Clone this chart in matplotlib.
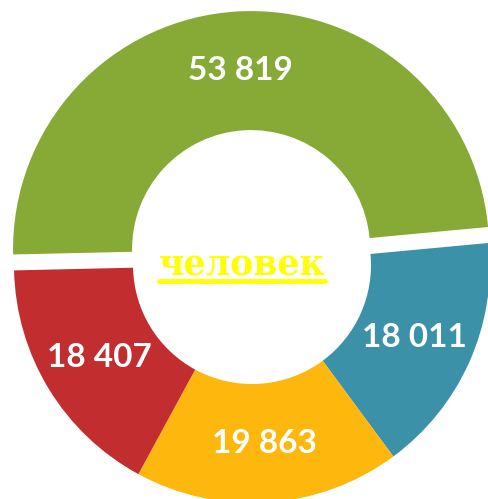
import matplotlib
matplotlib.use("Agg")
import matplotlib.pyplot as plt

# segment values, clockwise from the top-left
values = [53819, 18011, 19863, 18407]
colors = ["#87a936", "#3b91a8", "#fdb70d", "#c22d2f"]
center_label = "человек"

# 1 data unit = outer radius = 238 px, donut centre at (252, 265) px
R = 238.0

fig = plt.figure(figsize=(4.88, 4.99), dpi=100)
ax = fig.add_axes([0, 0, 1, 1])

labels = [f"{v:,}".replace(",", " ") for v in values]
wedges, texts = ax.pie(values, labels=labels, colors=colors,
                       explode=[0.067, 0, 0, 0], startangle=181.3,
                       counterclock=False, labeldistance=0.75,
                       wedgeprops=dict(width=0.5, linewidth=0),
                       textprops=dict(color="white", fontsize=24,
                                      fontweight="bold", family="Lato"))
for t in texts:
    t.set_ha("center")
    t.set_va("center")

ax.set_xlim(-252 / R, 236 / R)
ax.set_ylim(-234 / R, 265 / R)
ax.set_aspect("equal")
ax.axis("off")

# centre word, underlined
ct = ax.text(-10 / R, -10 / R, center_label, color="#ffff00", fontsize=25,
             fontweight="bold", family="DejaVu Serif", ha="center", va="baseline")
fig.canvas.draw()
bb = ct.get_window_extent(fig.canvas.get_renderer())
inv = ax.transData.inverted()
(x0, _), (x1, _) = inv.transform([(bb.x0, 0), (bb.x1, 0)])
ax.plot([x0, x1], [-16 / R, -16 / R], color="#ffff00", lw=3.5, solid_capstyle="round")

fig.savefig("out.png", dpi=100)
